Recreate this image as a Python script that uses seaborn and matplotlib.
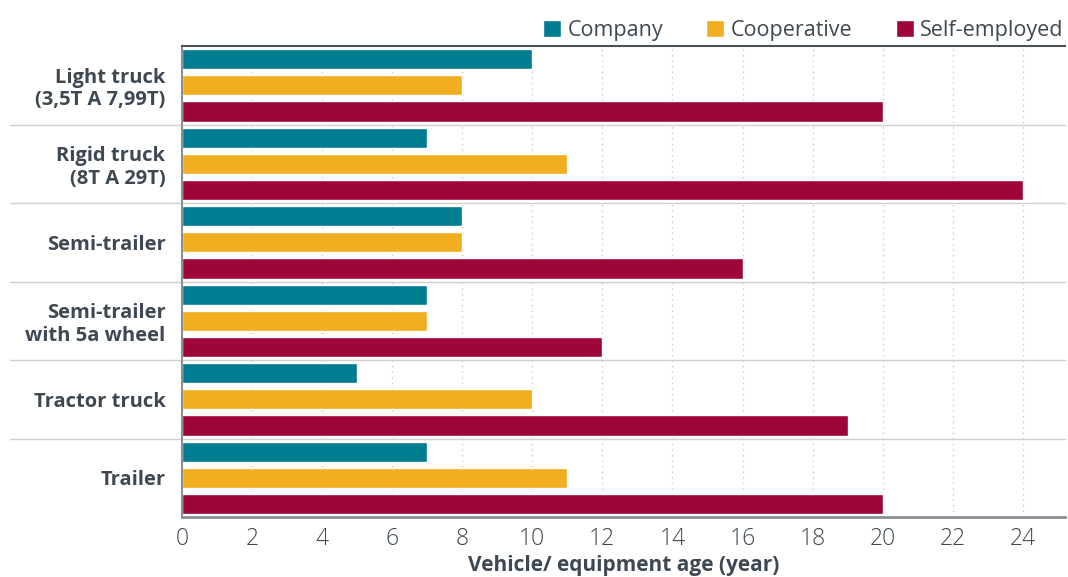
import matplotlib
matplotlib.use("Agg")
import matplotlib.pyplot as plt
import seaborn as sns
import pandas as pd

# ==========================
# DATA
# ==========================

categories = [
    "Light truck\n(3,5T A 7,99T)",
    "Rigid truck\n(8T A 29T)",
    "Semi-trailer",
    "Semi-trailer\nwith 5a wheel",
    "Tractor truck",
    "Trailer",
]

company = [10, 7, 8, 7, 5, 7]
cooperative = [8, 11, 8, 7, 10, 11]
self_employed = [20, 24, 16, 12, 19, 20]

series_names = ["Company", "Cooperative", "Self-employed"]
colors = ["#007C91", "#F0AE20", "#9E0639"]

df = pd.DataFrame({
    "category": categories * 3,
    "type": [series_names[0]] * 6 + [series_names[1]] * 6 + [series_names[2]] * 6,
    "age": company + cooperative + self_employed,
})

# ==========================
# PLOT
# ==========================

sns.set_style("white")
plt.rcParams["font.family"] = ["Open Sans", "DejaVu Sans"]

text_color = "#3d4852"

fig = plt.figure(figsize=(10.68, 5.77), dpi=100)
ax = fig.add_axes([0.1704, 0.104, 0.8266, 0.816])

sns.barplot(
    data=df,
    y="category",
    x="age",
    hue="type",
    palette=colors,
    saturation=1,
    orient="h",
    width=1.0,
    gap=0.23,
    ax=ax,
    legend=True,
)

ax.set_xlim(0, 25.2)
ax.set_ylim(5.5, -0.5)
ax.set_xticks(range(0, 25, 2))

ax.grid(axis="x", linestyle=(0, (1, 3)), color="#c8c8c8", linewidth=1)
ax.set_axisbelow(True)

# group separators
for y in [0.5, 1.5, 2.5, 3.5, 4.5]:
    ax.plot([-0.195, 1], [y, y], transform=ax.get_yaxis_transform(),
            color="#d0d0d0", linewidth=1, clip_on=False)

ax.spines["right"].set_visible(False)
ax.spines["top"].set_color("#4a525a")
ax.spines["top"].set_linewidth(1.5)
ax.spines["bottom"].set_color("#8a9096")
ax.spines["bottom"].set_linewidth(2)
ax.spines["left"].set_color("#8a9096")
ax.spines["left"].set_linewidth(1.5)

ax.tick_params(axis="both", length=0)
ax.tick_params(axis="x", labelsize=16.5, labelcolor=text_color, pad=7)
ax.tick_params(axis="y", labelsize=14.5, labelcolor=text_color, pad=12)
for lbl in ax.get_xticklabels():
    lbl.set_fontweight("light")
for lbl in ax.get_yticklabels():
    lbl.set_fontweight("bold")
    lbl.set_linespacing(1.15)

ax.set_ylabel("")
ax.set_xlabel("Vehicle/ equipment age (year)", fontsize=15, fontweight="bold",
              color=text_color, labelpad=3)

leg = ax.legend(
    loc="lower right",
    bbox_to_anchor=(1.005, 1.0),
    ncol=3,
    frameon=False,
    fontsize=15.5,
    handlelength=0.85,
    handleheight=0.85,
    handletextpad=0.3,
    columnspacing=2.0,
    borderaxespad=0.1,
    borderpad=0.15,
)
for t in leg.get_texts():
    t.set_color(text_color)

plt.savefig("out.png", dpi=100)
plt.close()
